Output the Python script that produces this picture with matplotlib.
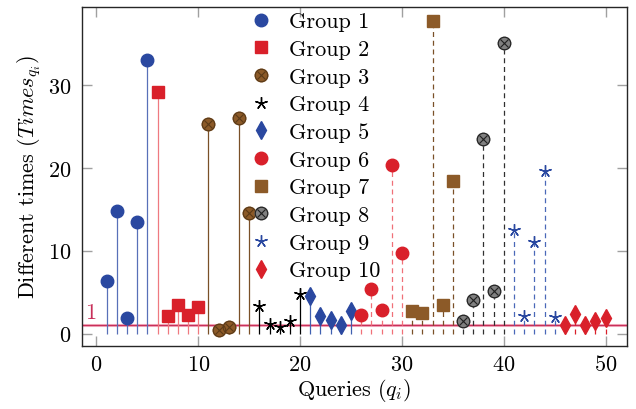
import matplotlib
matplotlib.use("Agg")
import matplotlib.pyplot as plt
from matplotlib.lines import Line2D

plt.rcParams['font.family'] = 'serif'
plt.rcParams['font.serif'] = ['cmr10', 'DejaVu Serif']
plt.rcParams['mathtext.fontset'] = 'cm'
plt.rcParams['axes.formatter.use_mathtext'] = True
plt.rcParams['font.size'] = 16

# Donnees (5 requetes par groupe)
queries = list(range(1, 51))
group_names = [f"Group {i}" for i in range(1, 11)]
g1 = [6.3, 14.8, 1.9, 13.5, 33.0]
g2 = [29.1, 2.1, 3.5, 2.3, 3.2]
g3 = [25.3, 0.5, 0.8, 26.0, 14.5]
g4 = [3.3, 1.2, 0.8, 1.5, 4.8]
g5 = [4.5, 2.1, 1.6, 1.0, 2.7]
g6 = [2.3, 5.4, 2.8, 20.3, 9.7]
g7 = [2.7, 2.5, 37.7, 3.4, 18.4]
g8 = [1.5, 4.1, 23.5, 5.2, 35.1]
g9 = [12.5, 2.1, 11.1, 19.6, 2.0]
g10 = [1.1, 2.4, 1.1, 1.5, 1.9]
groups = [g1, g2, g3, g4, g5, g6, g7, g8, g9, g10]
threshold = 1

BLUE = '#2a48a0'
RED = '#d9202a'
BROWN = '#8c5a28'
GRAY = '#808080'

# style de chaque groupe : (couleur marqueur, couleur tige, marqueur, taille, tirets, croix)
styles = [
    (BLUE, '#5870b8', 'o', 9, '-', None),
    (RED, '#ef7a80', 's', 8, '-', None),
    (BROWN, '#7a5028', 'o', 9, '-', '#5a3a18'),
    ('black', 'black', (5, 2, 0), 9, '-', None),
    (BLUE, '#4060b0', 'd', 9, '-', None),
    (RED, '#f07078', 'o', 9, (0, (4, 3)), None),
    (BROWN, '#7a5028', 's', 8, (0, (4, 3)), None),
    (GRAY, '#303030', 'o', 9, (0, (4, 3)), '#202020'),
    (BLUE, '#4a68b8', (5, 2, 0), 9, (0, (4, 3)), None),
    (RED, RED, 'd', 9, (0, (4, 3)), None),
]

fig = plt.figure(figsize=(6.36, 4.10), dpi=100)
ax = fig.add_axes([82 / 636, 1 - 347 / 410, 545 / 636, 339 / 410])

# Ligne horizontale y = 1
ax.axhline(threshold, color='#f4b0c0', lw=2.2, zorder=1)
ax.axhline(threshold, color='#c8305a', lw=0.9, zorder=1)
ax.text(-1.15, threshold + 0.4, "1", color='#c8305a', fontsize=16, va='bottom', ha='left')

handles = []
for i, vals in enumerate(groups):
    xs = queries[i * 5:(i + 1) * 5]
    col, scol, mk, ms, ls, cross = styles[i]
    ax.vlines(xs, 0, vals, colors=scol, linestyles=ls, lw=0.9, zorder=2)
    ax.plot(xs, vals, linestyle='none', marker=mk, ms=ms, color=col, mew=1.0, zorder=3)
    if cross:
        ax.plot(xs, vals, linestyle='none', marker='x', ms=ms * 0.6, color=cross,
                mew=0.8, zorder=4)
        ax.plot(xs, vals, linestyle='none', marker='o', ms=ms, mfc='none', mec=cross,
                mew=0.8, zorder=4)
    h = Line2D([], [], linestyle='none', marker=mk, ms=ms, color=col, mew=1.0)
    if cross:
        hx = Line2D([], [], linestyle='none', marker='x', ms=ms * 0.6, color=cross, mew=0.8)
        ho = Line2D([], [], linestyle='none', marker='o', ms=ms, mfc='none', mec=cross, mew=0.8)
        h = (h, hx, ho)
    handles.append(h)

ax.set_xlim(-1.42, 52.1)
ax.set_ylim(-1.49, 39.4)
ax.set_xticks([0, 10, 20, 30, 40, 50])
ax.set_yticks([0, 10, 20, 30])
ax.tick_params(direction='in', length=7, width=1.0, color='#a0a0a0',
               top=True, right=True, labelsize=16)
ax.tick_params(axis='x', pad=6)
ax.tick_params(axis='y', pad=8)
for sp in ax.spines.values():
    sp.set_linewidth(1.0)
    sp.set_color('#262626')

ax.set_xlabel(r"Queries ($q_i$)", fontsize=16, labelpad=1)
ax.set_ylabel(r"Different times ($Times_{q_i}$)", fontsize=16, labelpad=3)

leg = ax.legend(handles, group_names, loc='upper left', bbox_to_anchor=(0.292, 1.012),
                frameon=False, handlelength=1.0, handletextpad=0.75,
                labelspacing=0.365, borderaxespad=0, fontsize=16)

fig.savefig("out.png", dpi=100)
